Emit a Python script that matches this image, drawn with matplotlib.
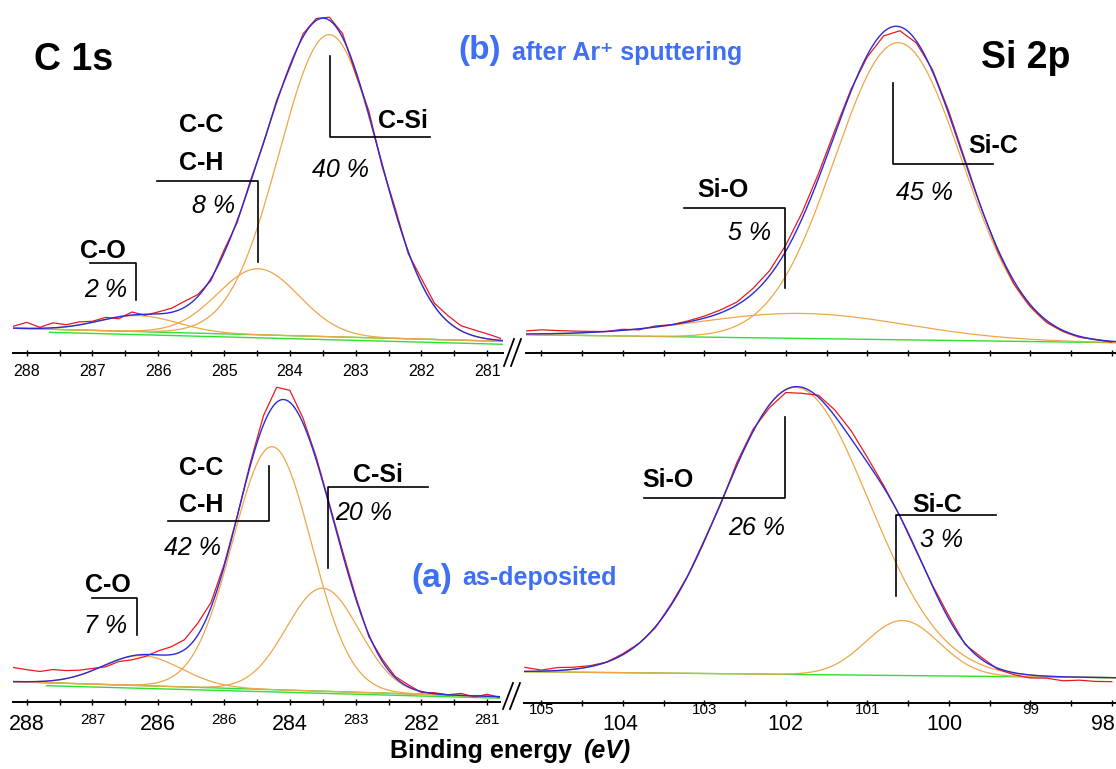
import numpy as np
import matplotlib
matplotlib.use("Agg")
import matplotlib.pyplot as plt
from matplotlib.transforms import Affine2D
from matplotlib.lines import Line2D

plt.rcParams['font.family'] = ['Liberation Sans', 'DejaVu Sans']

W, H, DPI = 1116, 769, 100

# ------------------------------------------------------------------ data
# Peak-fit components: centre (eV), height (a.u.), FWHM (eV)
# (b) after Ar+ sputtering -- C 1s : C-O, C-C/C-H, C-Si
c1s_b_center = [286.30, 284.48, 283.40]
c1s_b_height = [16, 66, 302]
c1s_b_fwhm = [1.41, 1.46, 1.79]
c1s_b_bgE = [288.20, 280.76]
c1s_b_bgI = [25, 12]
c1s_b_bg2E = [287.65, 280.76]
c1s_b_bg2I = [21, 9]
# measured - fit residuals on a 0.2 eV grid (288.2 -> 280.8 eV)
c1s_b_resid = [2, 6, 1, 5, 2, 3, 1, 2, -2, 3, -1, 2, 4, 6, 2, -2, 3, -2, 2, -1,
               2, -2, 3, 2, 3, 4, -3, 4, -2, 3, -2, 5, 3, 6, 5, 6, 5, 2]

# (b) after Ar+ sputtering -- Si 2p : Si-O, Si-C
si2p_b_center = [101.80, 100.62]
si2p_b_height = [25, 297]
si2p_b_fwhm = [3.01, 1.84]
si2p_b_bgE = [105.19, 97.95]
si2p_b_bgI = [18, 10]
# residuals on a 0.2 eV grid (105.2 -> 98.0 eV)
si2p_b_resid = [3, 4, 3, 2, 1, 0, 1, -1, 1, 0, 1, 2, 3, 3, 5, 5, 6, 6, 5, 4,
                2, -2, -4, -4, -2, 2, 3, 2, 0, -2, -3, -2, -2, -1, -1, 0, -1]

# (a) as-deposited -- C 1s : C-O, C-C/C-H, C-Si
c1s_a_center = [286.25, 284.27, 283.50]
c1s_a_height = [30, 243, 103]
c1s_a_fwhm = [1.41, 1.41, 1.30]
c1s_a_bgE = [288.20, 280.80]
c1s_a_bgI = [20, 5]
c1s_a_bg2E = [287.70, 280.80]
c1s_a_bg2I = [16, 3.5]
c1s_a_resid = [14, 12, 10, 11, 8, 5, 2, -2, -2, -4, -2, 4, 8, 10, 12, 5, 2, 0, 3, 9,
               15, 12, 5, 3, 2, 3, 2, -2, 2, 1, 2, -1, 1, 0, 2, -1, 2, -1]

# (a) as-deposited -- Si 2p : Si-O, Si-C
si2p_a_center = [101.88, 100.57]
si2p_a_height = [287, 55]
si2p_a_fwhm = [2.12, 1.06]
si2p_a_bgE = [105.20, 97.95]
si2p_a_bgI = [31.6, 25.6]
si2p_a_resid = [4, 1, 3, 2, 1, 0, 1, 0, -1, 1, 0, 1, -1, 3, 2, -3, -3, -6, 2, 6,
                8, 5, 2, 0, -1, 1, 3, -1, 2, -1, -2, -3, -2, -4, -3, -4, -4]

c1s_grid = np.round(np.arange(288.2, 280.79, -0.2), 2)
si2p_grid = np.round(np.arange(105.2, 97.99, -0.2), 2)

c1s_ticks = [288, 287, 286, 285, 284, 283, 282, 281]
c1s_b_ticklabels = ["288", "287", "286", "285", "284", "283", "282", "281"]
c1s_a_ticklabels = ["288", "287", "286", "286", "284", "283", "282", "281"]
si2p_ticks = [105, 104, 103, 102, 101, 100, 99, 98]
si2p_a_ticklabels = ["105", "104", "103", "102", "101", "100", "99", "98"]

# ------------------------------------------------------------------ style
RED = '#e8191e'
BLUE = '#2b2bd6'
ORANGE = '#f0a548'
GREEN = '#2fe02f'
TITLE_BLUE = '#3f6ff2'

fig = plt.figure(figsize=(W / DPI, H / DPI), dpi=DPI)
T = Affine2D().scale(1, -1).translate(0, H)   # image-pixel coordinates


def gauss(E, c, h, fwhm):
    s = fwhm / 2.3548
    return h * np.exp(-0.5 * ((E - c) / s) ** 2)


def line_bg(E, bgE, bgI):
    slope = (bgI[0] - bgI[1]) / (bgE[0] - bgE[1])
    return bgI[0] + (np.asarray(E) - bgE[0]) * slope


def panel(left, right, top, axis_y, xlim, centers, heights, fwhms,
          bgE, bgI, grid, resid, bg2E=None, bg2I=None):
    ax = fig.add_axes([left / W, 1 - axis_y / H, (right - left) / W, (axis_y - top) / H])
    ax.set_xlim(*xlim)
    ax.set_ylim(0, axis_y - top)
    ax.patch.set_alpha(0)
    for s in ('top', 'left', 'right'):
        ax.spines[s].set_visible(False)
    ax.spines['bottom'].set_linewidth(1.4)
    ax.set_yticks([])
    lo, hi = min(xlim), max(xlim)
    ax.set_xticks(np.arange(np.ceil(lo), np.floor(hi) + 0.01, 1.0))
    ax.set_xticks(np.arange(np.ceil(lo * 2) / 2, hi + 0.01, 0.5), minor=True)
    ax.tick_params(which='both', direction='inout', length=5, width=1.0,
                   labelbottom=False, color='black')

    E = np.linspace(xlim[0], xlim[1], 600)
    bg = line_bg(E, bgE, bgI)
    ax.plot(bgE, bgI, color=GREEN, lw=1.0)
    if bg2E is not None:
        ax.plot(bg2E, bg2I, color=GREEN, lw=1.0)
    env = bg.copy()
    for c, h, f in zip(centers, heights, fwhms):
        comp = gauss(E, c, h, f)
        ax.plot(E, bg + comp, color=ORANGE, lw=0.9)
        env += comp
    g = np.asarray(grid)
    env_g = line_bg(g, bgE, bgI)
    for c, h, f in zip(centers, heights, fwhms):
        env_g = env_g + gauss(g, c, h, f)
    ax.plot(g, env_g + np.asarray(resid), color=RED, lw=0.9)
    ax.plot(E, env, color=BLUE, lw=1.0)
    return ax


def ticklabels(ax, ticks, labels, sizes, offsets_px, dx_px=None):
    if dx_px is None:
        dx_px = [0] * len(ticks)
    for t, s, fs, off, dx in zip(ticks, labels, sizes, offsets_px, dx_px):
        ax.annotate(s, xy=(t, 0), xycoords=('data', 'axes fraction'),
                    xytext=(dx * 72 / DPI, -off * 72 / DPI), textcoords='offset points',
                    ha='center', va='baseline', fontsize=fs, annotation_clip=False)


ax_tl = panel(13, 503, 0, 353.3, (288.208, 280.761), c1s_b_center, c1s_b_height,
              c1s_b_fwhm, c1s_b_bgE, c1s_b_bgI, c1s_grid, c1s_b_resid, c1s_b_bg2E, c1s_b_bg2I)
ax_tr = panel(525.5, 1116, 0, 352.7, (105.194, 97.949), si2p_b_center, si2p_b_height,
              si2p_b_fwhm, si2p_b_bgE, si2p_b_bgI, si2p_grid, si2p_b_resid)
ax_bl = panel(13, 500, 375, 701.7, (288.208, 280.806), c1s_a_center, c1s_a_height,
              c1s_a_fwhm, c1s_a_bgE, c1s_a_bgI, c1s_grid, c1s_a_resid, c1s_a_bg2E, c1s_a_bg2I)
ax_br = panel(524.4, 1116, 375, 703.3, (105.207, 97.949), si2p_a_center, si2p_a_height,
              si2p_a_fwhm, si2p_a_bgE, si2p_a_bgI, si2p_grid, si2p_a_resid)

L, S = 15.5, 11
ticklabels(ax_tl, c1s_ticks, c1s_b_ticklabels, [11.5] * 8, [22.4] * 8)
ticklabels(ax_bl, c1s_ticks, c1s_a_ticklabels, [L, S, L, S, L, S, L, S],
           [28.3, 22.3] * 4)
ticklabels(ax_br, si2p_ticks, si2p_a_ticklabels, [S, L, S, L, S, L, S, L],
           [11.0, 26.7] * 4, [0, -2, 0, 0, 0, -4, 0, -9])


# ------------------------------------------------------------------ annotations
def ptext(x, y, s, size=18, weight='bold', style='normal', color='black', ha='center'):
    fig.text(x, y, s, transform=T, ha=ha, va='baseline', fontsize=size,
             fontweight=weight, fontstyle=style, color=color)


def pline(pts, lw=1.2):
    xs, ys = zip(*pts)
    fig.add_artist(Line2D(xs, ys, transform=T, color='black', lw=lw))


ptext(74, 70, "C 1s", size=27)
ptext(1026, 68, "Si 2p", size=27)
ptext(480, 58.5, "(b)", size=24, color=TITLE_BLUE)
ptext(511.7, 60, "after Ar\u207a sputtering", size=18, color=TITLE_BLUE, ha='left')
ptext(431.5, 586.7, "(a)", size=24, color=TITLE_BLUE)
ptext(462, 585, "as-deposited", size=18, color=TITLE_BLUE, ha='left')
ptext(390, 758, "Binding energy", size=18, ha='left')
ptext(583, 758, "(eV)", size=18, style='italic', ha='left')

# C 1s (b)
ptext(402.5, 128, "C-Si"); ptext(340, 176.7, "40 %", weight='normal', style='italic')
ptext(201, 131.7, "C-C"); ptext(201, 170, "C-H"); ptext(214, 213, "8 %", weight='normal', style='italic')
ptext(102.5, 258, "C-O"); ptext(106, 297, "2 %", weight='normal', style='italic')
pline([(330, 56), (330, 137), (430, 137)])
pline([(157, 180.7), (258, 180.7), (258, 261.7)])
pline([(90, 263), (136, 263), (136, 300)])

# Si 2p (b)
ptext(993, 153, "Si-C"); ptext(924, 200, "45 %", weight='normal', style='italic')
ptext(723, 196.7, "Si-O"); ptext(750, 240, "5 %", weight='normal', style='italic')
pline([(892.5, 82.7), (892.5, 164), (993, 164)])
pline([(684, 207.7), (785, 207.7), (785, 288.3)])

# C 1s (a)
ptext(201, 475, "C-C"); ptext(201, 511.7, "C-H"); ptext(193, 555, "42 %", weight='normal', style='italic')
ptext(377.5, 481.7, "C-Si"); ptext(364, 520, "20 %", weight='normal', style='italic')
ptext(107.5, 591.7, "C-O"); ptext(106, 633, "7 %", weight='normal', style='italic')
pline([(168, 521), (269, 521), (269, 466)])
pline([(328, 568), (328, 487.3), (428, 487.3)])
pline([(92, 598), (137, 598), (137, 635)])

# Si 2p (a)
ptext(668, 486.7, "Si-O"); ptext(757, 535, "26 %", weight='normal', style='italic')
ptext(937, 511.7, "Si-C"); ptext(942, 546.7, "3 %", weight='normal', style='italic')
pline([(644, 497.7), (785, 497.7), (785, 416.7)])
pline([(996, 515), (896, 515), (896, 595.7)])

# axis-break marks
pline([(504, 366), (514, 339)], lw=1.3)
pline([(511, 366), (521, 339)], lw=1.3)
pline([(503, 709), (513, 683)], lw=1.3)
pline([(510, 709), (520, 683)], lw=1.3)

fig.savefig("out.png", dpi=DPI, facecolor='white')
